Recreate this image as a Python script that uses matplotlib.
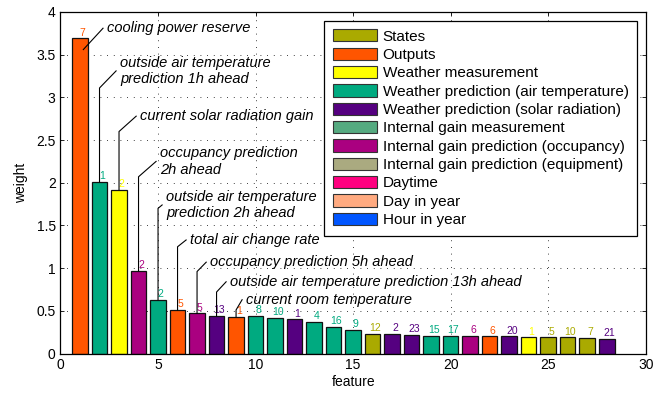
import matplotlib
matplotlib.use('Agg')
import matplotlib.pyplot as plt
from matplotlib.patches import Patch

plt.rcParams['font.family'] = ['Liberation Sans', 'DejaVu Sans']

# legend categories and their colours
categories = ['States', 'Outputs', 'Weather measurement',
              'Weather prediction (air temperature)',
              'Weather prediction (solar radiation)',
              'Internal gain measurement',
              'Internal gain prediction (occupancy)',
              'Internal gain prediction (equipment)',
              'Daytime', 'Day in year', 'Hour in year']
cat_colors = ['#AAAA00', '#FF5500', '#FFFF00', '#00AA80', '#550080',
              '#55AA80', '#AA0080', '#AAAA80', '#FF0080', '#FFAA80', '#0055FF']

# features (x = 1..28), category index of each bar, weight, label above bar
features = list(range(1, 29))
bar_cat = [1, 3, 2, 6, 3, 1, 6, 4, 1, 3, 3, 4, 3, 3, 3, 0, 4, 4, 3, 3,
           6, 1, 4, 2, 0, 0, 0, 4]
weights = [3.69, 2.01, 1.92, 0.97, 0.63, 0.51, 0.47, 0.44, 0.43, 0.44,
           0.42, 0.40, 0.37, 0.31, 0.28, 0.23, 0.23, 0.22, 0.21, 0.21,
           0.21, 0.20, 0.20, 0.19, 0.19, 0.19, 0.18, 0.17]
bar_labels = ['7', '1', '2', '2', '2', '5', '5', '13', '1', '8', '10', '1',
              '4', '16', '9', '12', '2', '23', '15', '17', '6', '6', '20',
              '1', '5', '10', '7', '21']

# annotations: bar number, text
ann_bar = [1, 2, 3, 4, 5, 6, 7, 8, 9]
ann_text = ['cooling power reserve',
            'outside air temperature\nprediction 1h ahead',
            'current solar radiation gain',
            'occupancy prediction\n2h ahead',
            'outside air temperature\nprediction 2h ahead',
            'total air change rate',
            'occupancy prediction 5h ahead',
            'outside air temperature prediction 13h ahead',
            'current room temperature']

# layout of the annotation leaders (text position, knee height)
ann_pos = [(2.38, 3.81), (3.05, 3.31), (4.08, 2.78), (5.10, 2.25),
           (5.41, 1.74), (6.64, 1.33), (7.67, 1.07), (8.69, 0.84),
           (9.51, 0.63)]
ann_knee = [3.56, 3.11, 2.60, 2.07, 1.70, 1.25, 0.96, 0.72, 0.51]
ann_knee_dx = [0.17, 0, 0, 0, 0, 0, 0, 0, 0]

fig = plt.figure(figsize=(6.67, 3.96), dpi=100)
ax = fig.add_axes([0.0907, 0.1073, 0.8774, 0.8624])

colors = [cat_colors[c] for c in bar_cat]
bars = ax.bar(features, weights, width=0.8, color=colors,
              edgecolor='#111111', linewidth=0.9, zorder=2)

for x, h, lab, c in zip(features, weights, bar_labels, colors):
    ax.annotate(lab, (x, h), xytext=(2, 0.5), textcoords='offset points',
                ha='center', va='bottom', fontsize=7.5, color=c, zorder=3)

for b, txt, (tx, ty), ky, kdx in zip(ann_bar, ann_text, ann_pos,
                                      ann_knee, ann_knee_dx):
    h = weights[b - 1]
    if ky > h:
        xs, ys = [b, b, tx - 0.2], [h, ky, ty]
    else:
        xs, ys = [b + kdx, tx - 0.2], [ky, ty]
    ax.plot(xs, ys, color='k', lw=0.8, zorder=4)
    ax.text(tx, ty, txt, fontsize=10.5, style='italic', ha='left',
            va='center', linespacing=1.2, zorder=4)

ax.set_xlim(0, 30)
ax.set_ylim(0, 4)
ax.set_xticks(range(0, 31, 5))
ax.set_yticks([0, 0.5, 1, 1.5, 2, 2.5, 3, 3.5, 4])
ax.set_yticklabels(['0', '0.5', '1', '1.5', '2', '2.5', '3', '3.5', '4'])
ax.tick_params(direction='in', top=True, right=True, labelsize=10,
               length=3, width=0.6)
ax.grid(True, color='k', linestyle=(0, (1, 7)), linewidth=0.6, zorder=0)
ax.set_axisbelow(True)
for s in ax.spines.values():
    s.set_linewidth(0.9)
ax.set_xlabel('feature', fontsize=10, labelpad=2)
ax.set_ylabel('weight', fontsize=10, labelpad=6)

handles = [Patch(facecolor=c, edgecolor='#333333', linewidth=0.8)
           for c in cat_colors]
legend = ax.legend(handles, categories, loc='upper right',
                   bbox_to_anchor=(0.985, 0.974), borderaxespad=0,
                   fontsize=11, fancybox=False, framealpha=1,
                   handlelength=2.9, handleheight=0.85, labelspacing=0.26,
                   handletextpad=0.35, borderpad=0.55)
frame = legend.get_frame()
frame.set_edgecolor('k')
frame.set_linewidth(0.9)

fig.savefig('out.png', dpi=100)
